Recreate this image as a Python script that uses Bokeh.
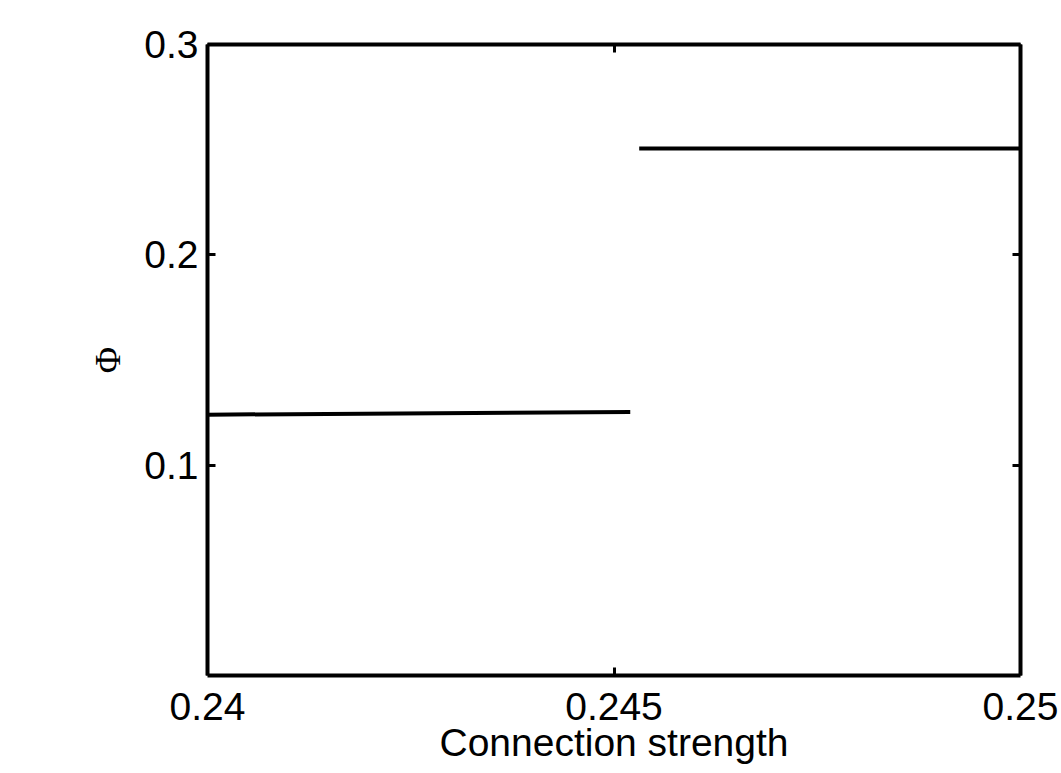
from bokeh.plotting import figure
from bokeh.models import Range1d, LinearAxis, FixedTicker
from bokeh.embed import file_html
from bokeh.resources import INLINE

# data
branch1_x = [0.24, 0.24520]
branch1_y = [0.1240, 0.1253]
branch2_x = [0.24531, 0.25]
branch2_y = [0.2505, 0.2506]

x_ticks = [0.24, 0.245, 0.25]
x_tick_labels = ["0.24", "0.245", "0.25"]
y_ticks = [0.1, 0.2, 0.3]
y_tick_labels = ["0.1", "0.2", "0.3"]

p = figure(width=1061, height=773, output_backend="svg", toolbar_location=None,
           x_range=Range1d(0.24, 0.25), y_range=Range1d(0.0, 0.3),
           x_axis_location=None, y_axis_location=None,
           min_border_left=207, min_border_right=41, min_border_top=44, min_border_bottom=98)
p.outline_line_color = None
p.grid.visible = False
p.background_fill_color = "white"
p.border_fill_color = "white"

LW = 4
FONT = "Liberation Sans"

def style(ax, ticks, labels, show):
    ax.ticker = FixedTicker(ticks=ticks)
    ax.major_label_overrides = {t: l for t, l in zip(ticks, labels)}
    ax.axis_line_width = LW
    ax.axis_line_color = "black"
    ax.major_tick_in = 8
    ax.major_tick_out = 0
    ax.major_tick_line_width = 3
    ax.minor_tick_line_color = None
    ax.major_label_text_font = FONT
    ax.major_label_text_font_size = "39px"
    ax.major_label_text_color = "black"
    if not show:
        ax.major_label_text_alpha = 0.0
        ax.major_label_text_font_size = "1px"

bottom = LinearAxis(axis_label="Connection strength")
style(bottom, x_ticks, x_tick_labels, True)
bottom.major_label_standoff = 17
bottom.axis_label_text_font = FONT
bottom.axis_label_text_font_size = "39px"
bottom.axis_label_text_font_style = "normal"
bottom.axis_label_text_color = "black"
bottom.axis_label_standoff = -2
p.add_layout(bottom, "below")

left = LinearAxis(axis_label="Φ")
style(left, y_ticks, y_tick_labels, True)
left.major_label_standoff = 9
left.axis_label_text_font = "Liberation Serif"
left.axis_label_text_font_size = "36px"
left.axis_label_text_font_style = "normal"
left.axis_label_text_color = "black"
left.axis_label_standoff = 13
p.add_layout(left, "left")

top = LinearAxis()
style(top, x_ticks, x_tick_labels, False)
p.add_layout(top, "above")

right = LinearAxis()
style(right, y_ticks, y_tick_labels, False)
p.add_layout(right, "right")

p.line(branch1_x, branch1_y, line_color="black", line_width=LW)
p.line(branch2_x, branch2_y, line_color="black", line_width=LW)

open("out.html", "w").write(file_html(p, INLINE))
